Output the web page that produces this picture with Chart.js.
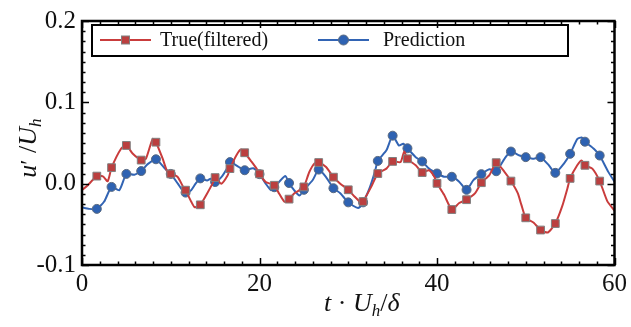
<!DOCTYPE html>
<html>
<head>
<meta charset="utf-8">
<script src="https://cdn.jsdelivr.net/npm/chart.js@4/dist/chart.umd.min.js"></script>
<style>
html,body{margin:0;padding:0;background:#fff}
#wrap{width:631px;height:327px}
</style>
</head>
<body>
<div id="wrap"><canvas id="c"></canvas></div>
<script>
// true (filtered) signal
var tTrue = [0,0.5,1.67,2.35,2.9,3.33,4.4,5,5.7,6.67,7.2,7.96,8.33,9.08,9.6,10,10.76,11.4,11.67,12.3,
  12.7,13.33,14.1,14.7,15,15.7,16.4,16.67,17.4,17.9,18.33,19.1,19.7,20,20.7,21.67,22.2,22.8,23.33,23.9,
  24.5,25,25.6,26.2,26.67,27.5,28.33,29.1,30,30.7,31.5,31.67,32.6,33.33,34.3,35,35.9,36.3,36.67,37.6,
  38.33,39.1,39.7,40,40.8,41.67,42.5,43.33,44.3,45,45.9,46.67,47.6,48.33,49.1,49.5,50,50.9,51.67,52.5,
  53.33,54.1,54.7,55,55.8,56.3,56.67,57.5,58.33,59.2,60];
var uTrue = [-0.0076,-0.0036,0.0093,0.0089,0.003,0.0197,0.043,0.047,0.037,0.029,0.0306,0.055,0.051,0.031,0.015,0.012,0.0085,-0.004,-0.008,-0.022,
  -0.029,-0.026,-0.012,0.0,0.0075,0.0,0.010,0.0185,0.035,0.042,0.038,0.027,0.018,0.012,0.002,-0.002,-0.012,-0.022,-0.019,-0.012,
  -0.008,-0.004,0.014,0.025,0.026,0.0205,0.008,0.0,-0.0075,-0.0157,-0.024,-0.022,-0.0036,0.0125,0.0185,0.0274,0.0266,0.0395,0.0306,0.0226,
  0.0137,0.0165,0.0085,0.0004,-0.0137,-0.0318,-0.0238,-0.0197,-0.0117,0.0012,0.0105,0.0258,0.0145,0.0032,-0.0117,-0.0258,-0.042,-0.048,-0.057,-0.060,
  -0.049,-0.028,-0.0056,0.0065,0.0226,0.0286,0.0226,0.0185,0.0032,-0.0218,-0.033];

// prediction
var tPred = [0,0.8,1.67,2.5,3.33,4.2,5,5.9,6.67,7.4,8.33,9.4,10,10.8,11.3,11.67,12.3,12.8,13.33,14.1,
  14.5,15,15.7,16.3,16.67,17.6,18.33,19.3,20,20.7,21.3,21.67,22.9,23.33,23.9,24.5,25,26,26.67,27.5,
  28.33,29.1,30,31.1,31.67,32.4,33,33.33,34.3,35,35.7,36.2,36.67,37.6,38.33,39.1,40,40.8,41.67,42.5,
  43.33,44.1,45,45.9,46.67,47.6,48.33,49.3,50,50.9,51.67,52.6,53.33,54.3,55,55.8,56.3,56.67,57.7,58.33,
  59.3,60];
var uPred = [-0.029,-0.031,-0.031,-0.022,-0.004,-0.008,0.012,0.011,0.0155,0.024,0.030,0.018,0.012,0.0,-0.008,-0.011,-0.008,0.0,0.0065,0.004,
  0.006,0.002,0.008,0.018,0.0265,0.021,0.0165,0.019,0.0117,0.0,-0.008,-0.0044,0.0095,0.0008,-0.008,-0.0145,-0.0076,0.0045,0.0173,0.008,
  -0.0056,-0.0117,-0.023,-0.030,-0.023,-0.0056,0.0145,0.028,0.041,0.059,0.047,0.049,0.0435,0.0326,0.0274,0.0185,0.0125,0.0085,0.0085,0.0025,
  -0.0076,0.0044,0.0117,0.0177,0.0153,0.0306,0.0395,0.0346,0.0326,0.0306,0.0326,0.0226,0.0133,0.0246,0.0367,0.0548,0.0568,0.0516,0.0427,0.0346,
  0.0145,0.0024];

// where the markers sit
var markT = [1.67,3.33,5,6.67,8.33,10,11.67,13.33,15,16.67,18.33,20,21.67,23.33,25,26.67,28.33,30,31.67,33.33,
  35,36.67,38.33,40,41.67,43.33,45,46.67,48.33,50,51.67,53.33,55,56.67,58.33];

var xTicks = [0,20,40,60];
var yTicks = [-0.1,0,0.1,0.2];

var serif = "'Liberation Serif','DejaVu Serif',serif";
var redLine = '#c93c3c', redMark = '#bb3f3f';
var blueLine = '#3264b4', blueMark = '#2e62b2';

function pts(t, u){
  var out = [];
  for (var i = 0; i < t.length; i++) out.push({x: t[i], y: u[i]});
  return out;
}
function markRadius(r){
  return function(ctx){ return markT.indexOf(ctx.raw.x) >= 0 ? r : 0; };
}

function drawMark(ctx, style, x, y){
  ctx.save();
  ctx.lineWidth = 1;
  if (style === 'rect'){
    ctx.fillStyle = redMark; ctx.strokeStyle = '#808080';
    ctx.fillRect(x-4, y-4, 8, 8); ctx.strokeRect(x-4, y-4, 8, 8);
  } else {
    ctx.fillStyle = blueMark; ctx.strokeStyle = '#5a6a80';
    ctx.beginPath(); ctx.arc(x, y, 5, 0, Math.PI*2); ctx.fill(); ctx.stroke();
  }
  ctx.restore();
}

var frame = {
  id: 'frame',
  afterDraw: function(chart){
    var ctx = chart.ctx, a = chart.chartArea;
    var xs = chart.scales.x, ys = chart.scales.y;
    ctx.save();
    ctx.strokeStyle = '#000';
    ctx.lineWidth = 1.5;
    // minor / major ticks on all four sides, pointing in
    for (var v = 0; v <= 60; v += 2){
      var px = Math.round(xs.getPixelForValue(v)) + 0.5;
      var len = (v % 20 === 0) ? 7 : 3.5;
      ctx.beginPath();
      ctx.moveTo(px, a.bottom); ctx.lineTo(px, a.bottom - len);
      ctx.moveTo(px, a.top); ctx.lineTo(px, a.top + len);
      ctx.stroke();
    }
    for (var k = 0; k <= 24; k++){
      var yv = -0.1 + k*0.0125;
      var py = Math.round(ys.getPixelForValue(yv)) + 0.5;
      var ylen = (k % 8 === 0) ? 7 : 3.5;
      ctx.beginPath();
      ctx.moveTo(a.left, py); ctx.lineTo(a.left + ylen, py);
      ctx.moveTo(a.right, py); ctx.lineTo(a.right - ylen, py);
      ctx.stroke();
    }
    ctx.lineWidth = 2.5;
    ctx.strokeRect(a.left, a.top, a.right - a.left, a.bottom - a.top);

    // legend
    ctx.lineWidth = 2;
    ctx.strokeRect(92, 25, 476, 31);
    var ly = 40;
    ctx.strokeStyle = redLine;
    ctx.beginPath(); ctx.moveTo(100, ly); ctx.lineTo(151, ly); ctx.stroke();
    drawMark(ctx, 'rect', 125.5, ly);
    ctx.strokeStyle = blueLine;
    ctx.beginPath(); ctx.moveTo(318, ly); ctx.lineTo(369, ly); ctx.stroke();
    drawMark(ctx, 'circle', 343.5, ly);
    ctx.fillStyle = '#111';
    ctx.font = '20px ' + serif;
    ctx.textBaseline = 'middle';
    ctx.fillText(chart.data.datasets[0].label, 160, ly + 1);
    ctx.fillText(chart.data.datasets[1].label, 383, ly + 1);

    // x title: t · U_h / δ
    ctx.textBaseline = 'alphabetic';
    var bx = 324, by = 311;
    var parts = [
      ['italic 26px ', 't', 0], ['26px ', ' \u00b7 ', 0], ['italic 26px ', 'U', 0],
      ['italic 17px ', 'h', 5], ['26px ', '/', 0], ['italic 26px ', '\u03b4', 0]
    ];
    parts.forEach(function(p){
      ctx.font = p[0] + serif;
      ctx.fillText(p[1], bx, by + p[2]);
      bx += ctx.measureText(p[1]).width;
    });

    // y title: u' / U_h, rotated
    ctx.save();
    ctx.translate(36, 148);
    ctx.rotate(-Math.PI/2);
    var yparts = [
      ['italic 26px ', 'u', 0], ['24px ', '\u2032', 0], ['26px ', ' /', 0],
      ['italic 26px ', 'U', 0], ['italic 17px ', 'h', 5]
    ];
    var w = 0;
    yparts.forEach(function(p){ ctx.font = p[0] + serif; w += ctx.measureText(p[1]).width; });
    var cx = -w/2;
    yparts.forEach(function(p){
      ctx.font = p[0] + serif;
      ctx.fillText(p[1], cx, p[2]);
      cx += ctx.measureText(p[1]).width;
    });
    ctx.restore();
    ctx.restore();
  }
};

new Chart(document.getElementById('c'), {
  type: 'line',
  data: {
    datasets: [
      {
        label: 'True(filtered)',
        data: pts(tTrue, uTrue),
        borderColor: redLine, borderWidth: 2, tension: 0.2,
        pointStyle: 'rect', pointRadius: markRadius(5.5),
        pointBackgroundColor: redMark, pointBorderColor: '#808080', pointBorderWidth: 1
      },
      {
        label: 'Prediction',
        data: pts(tPred, uPred),
        borderColor: blueLine, borderWidth: 2, tension: 0.2,
        pointStyle: 'circle', pointRadius: markRadius(4.5),
        pointBackgroundColor: blueMark, pointBorderColor: '#5a6a80', pointBorderWidth: 1
      }
    ]
  },
  options: {
    responsive: true,
    maintainAspectRatio: false,
    animation: false,
    events: [],
    layout: { padding: { top: 17, right: 14, left: 0, bottom: 0 } },
    plugins: { legend: { display: false }, tooltip: { enabled: false } },
    scales: {
      x: {
        type: 'linear', min: 0, max: 60,
        grid: { display: false, drawTicks: false },
        border: { display: false },
        afterFit: function(s){ s.height = 62; },
        afterBuildTicks: function(s){ s.ticks = xTicks.map(function(v){ return {value: v}; }); },
        ticks: { color: '#111', padding: 4, maxRotation: 0, font: { family: serif, size: 25 } }
      },
      y: {
        type: 'linear', min: -0.1, max: 0.2,
        grid: { display: false, drawTicks: false },
        border: { display: false },
        afterFit: function(s){ s.width = 82; },
        afterBuildTicks: function(s){ s.ticks = yTicks.map(function(v){ return {value: v}; }); },
        ticks: {
          color: '#111', padding: 6, font: { family: serif, size: 25 },
          callback: function(v){ return v.toFixed(1); }
        }
      }
    }
  },
  plugins: [frame]
});
</script>
</body>
</html>
